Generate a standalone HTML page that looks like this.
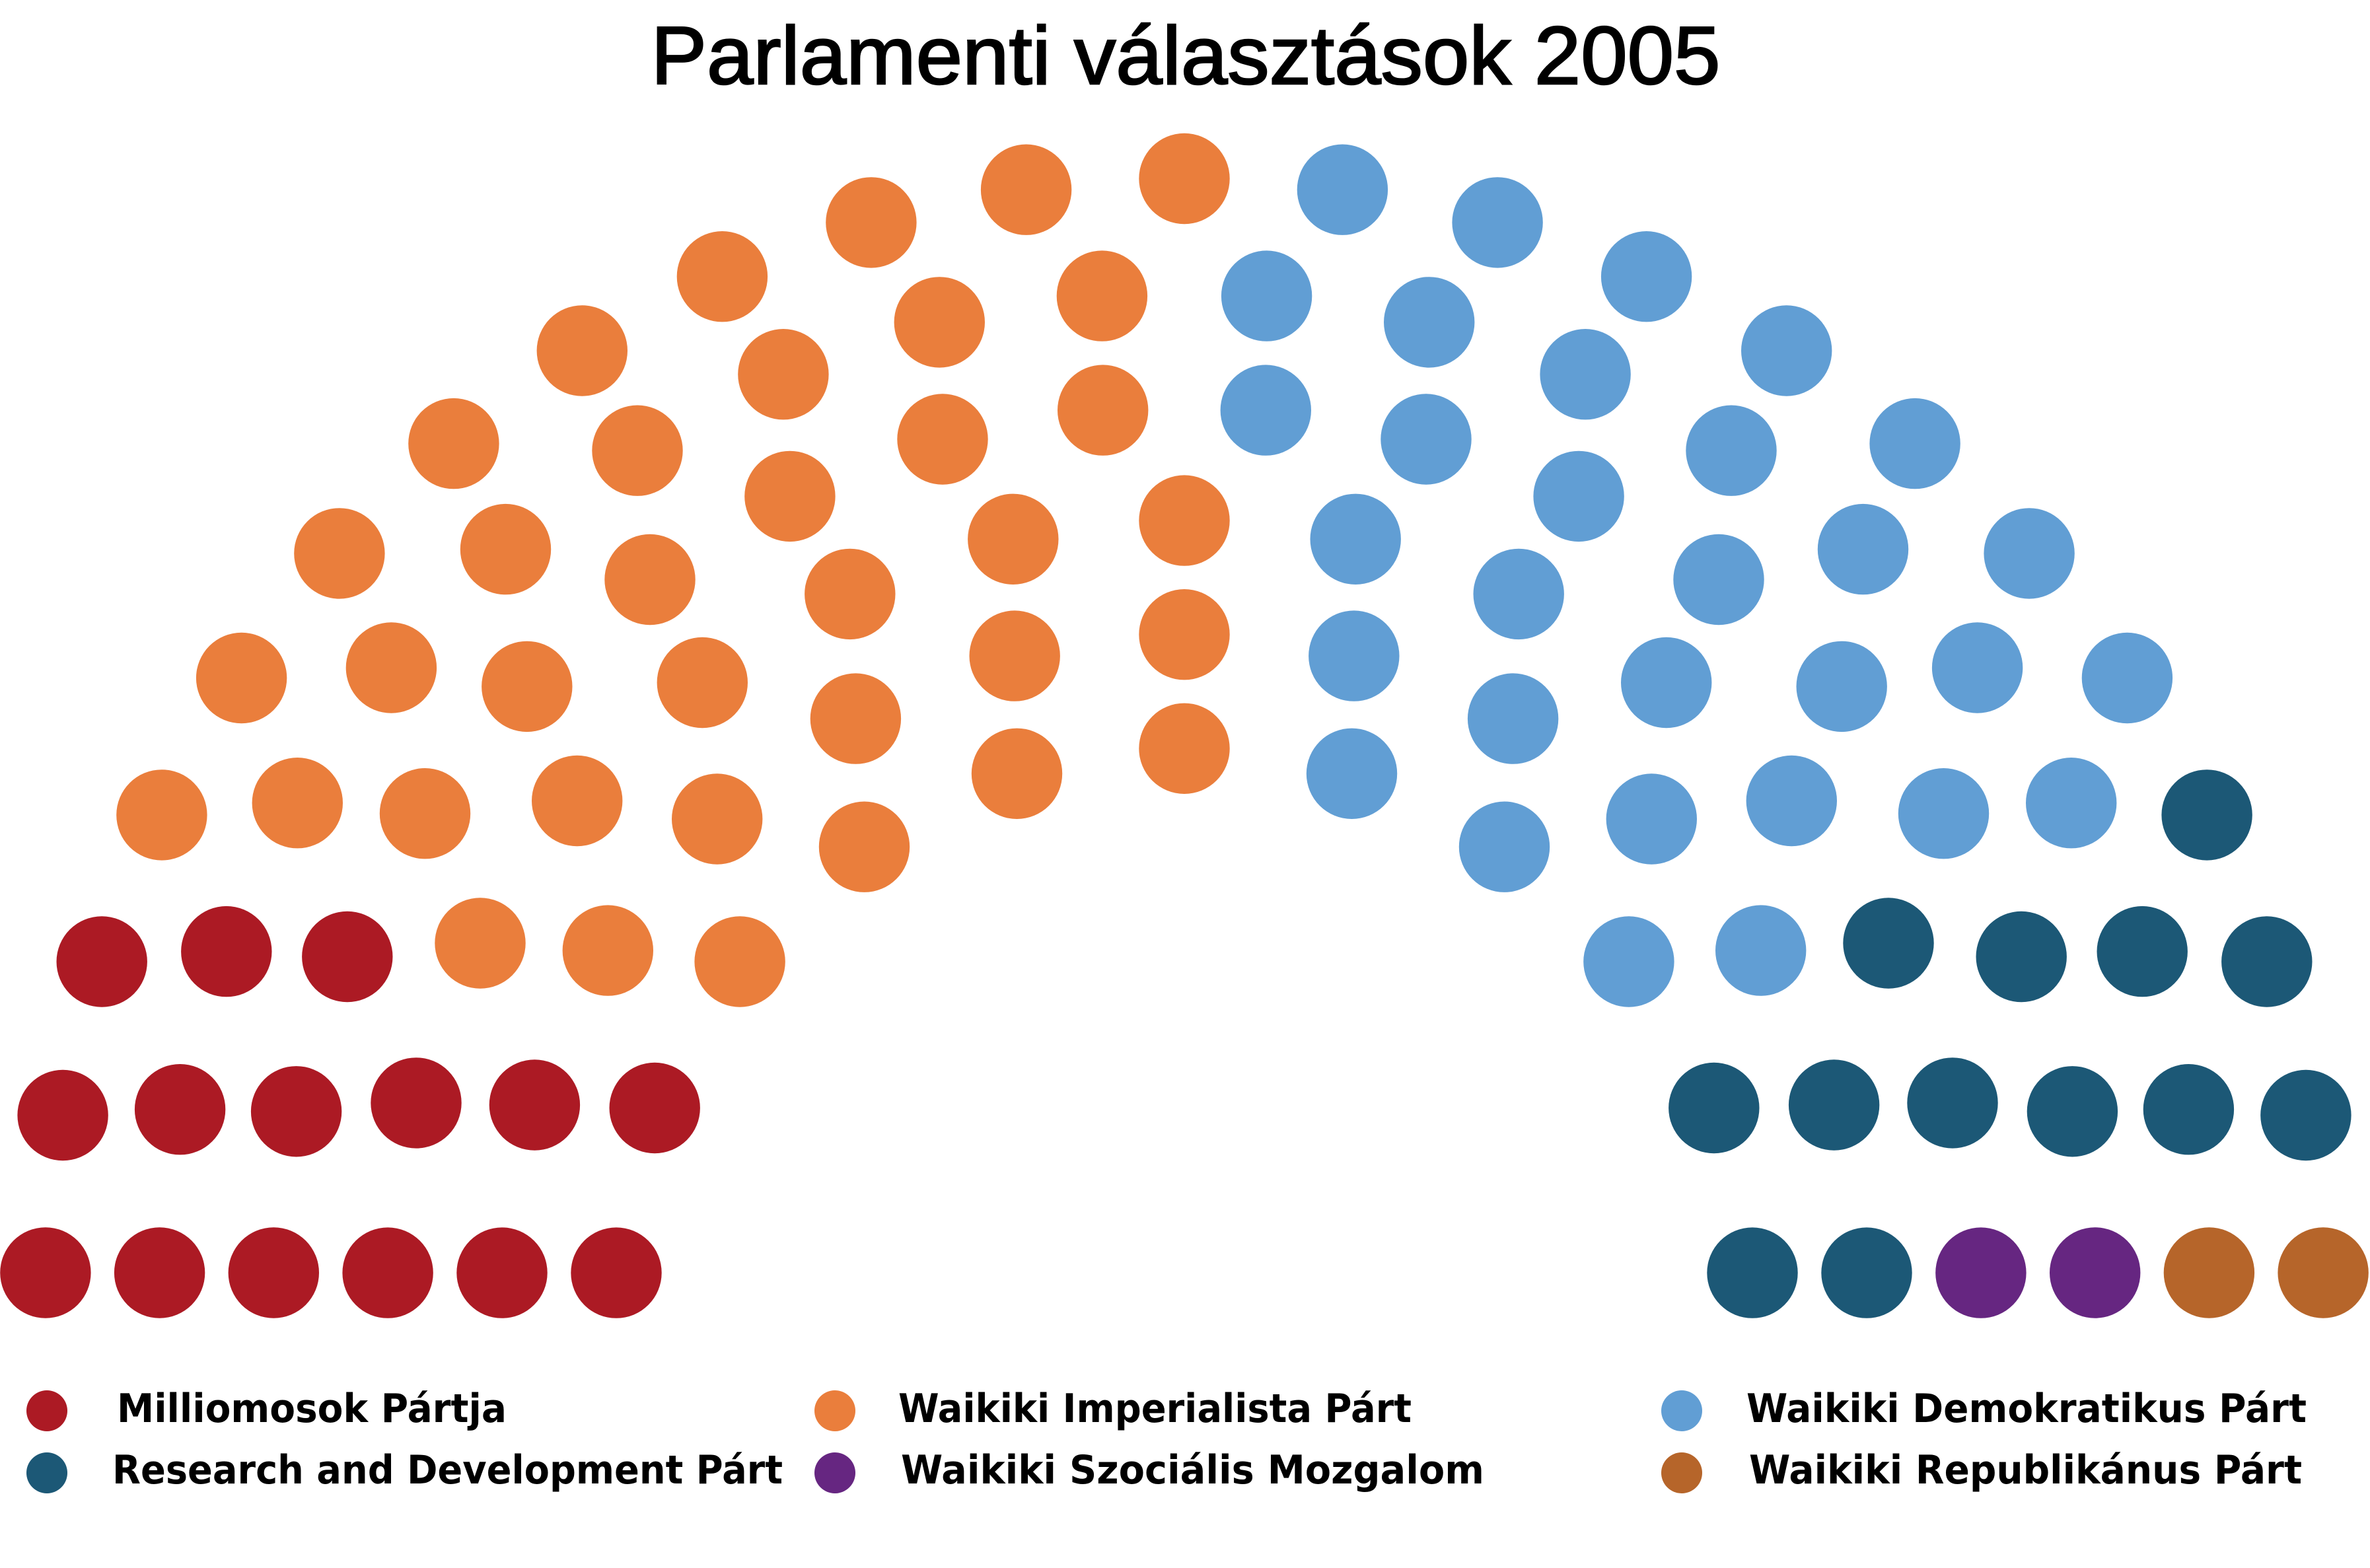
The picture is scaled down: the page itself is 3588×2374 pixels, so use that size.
<!DOCTYPE html>
<html><head><meta charset="utf-8"><style>html,body{margin:0;padding:0;background:#fff}svg{display:block}</style></head>
<body>
<svg id="chart" xmlns="http://www.w3.org/2000/svg" width="3588" height="2374" viewBox="0 0 3588 2374">
<rect x="0" y="0" width="3588" height="2374" fill="#fff"/>
<text x="1795" y="127" text-anchor="middle" font-family="Liberation Sans, sans-serif" font-size="124" stroke="#000" stroke-width="2.5" textLength="1619" lengthAdjust="spacingAndGlyphs">Parlamenti választások 2005</text>
<g id="seats"></g>
<g id="legend"></g>
</svg>
<script>
const parties = ["Milliomosok Pártja","Waikiki Imperialista Párt","Waikiki Demokratikus Párt","Research and Development Párt","Waikiki Szociális Mozgalom","Waikiki Republikánus Párt"];
const seatCounts = [15, 37, 31, 13, 2, 2];
const colors = ["#AC1A24","#EA7E3C","#619ED4","#1C5876","#662681","#B6652A"];

const svg = document.getElementById('chart');
const NS = "http://www.w3.org/2000/svg";
const cx = 1793, cy = 1996, S = 1035.3;
const Totals=[0,3,15,33,61,95,138,189,247,313,388,469,559,657,762,876,997,1126,1263,1408,1560];
const sum = seatCounts.reduce((a,b)=>a+b,0);
let rows = 1;
for (let i=1;i<Totals.length;i++){ if (Totals[i]>=sum){ rows=i; break; } }
const rad = 0.4/rows;
const pos = [];
function addRow(J, R){
  if (J===1){ pos.push([Math.PI/2, 1.75, R+0.25]); return; }
  for (let j=0;j<J;j++){
    const a = j*(Math.PI-2*Math.sin(rad/R))/(J-1)+Math.sin(rad/R);
    pos.push([a, R*Math.cos(a)+1.75, R*Math.sin(a)+0.25]);
  }
}
for (let i=1;i<rows;i++){
  const R=(3*rows+4*i-2)/(4*rows);
  const J=Math.floor(sum/Totals[rows]*Math.PI/(2*Math.asin(2/(3*rows+4*i-2))));
  addRow(J,R);
}
addRow(sum-pos.length,(7*rows-2)/(4*rows));
pos.sort((a,b)=>b[0]-a[0]);
const seatsG = document.getElementById('seats');
let k=0;
seatCounts.forEach((n,p)=>{
  for (let s=0;s<n;s++){
    const q=pos[k++];
    const c=document.createElementNS(NS,'circle');
    c.setAttribute('cx',(cx+(q[1]-1.75)*S).toFixed(1));
    c.setAttribute('cy',(cy-(q[2]-0.25)*S).toFixed(1));
    c.setAttribute('r',(rad*S*0.995).toFixed(1));
    c.setAttribute('fill',colors[p]);
    
    
    seatsG.appendChild(c);
  }
});
const legendOrder=[0,1,2,3,4,5];
const legCircleX=[71,1264,2546], legTextX=[177,1360,2644], legTextW=[[590,777,848],[1015,883,837]];
const legCy=[2136,2230], legBase=[2153,2246];
const legendG=document.getElementById('legend');
legendOrder.forEach((p,i)=>{
  const row=Math.floor(i/3), col=i%3;
  const g=document.createElementNS(NS,'g');
  
  
  const c=document.createElementNS(NS,'circle');
  c.setAttribute('cx',legCircleX[col]); c.setAttribute('cy',legCy[row]); c.setAttribute('r',31);
  c.setAttribute('fill',colors[p]);
  
  
  const t=document.createElementNS(NS,'text');
  t.setAttribute('x',legTextX[col]+(row===1&&col===0?-7:(row===1?4:0)));
  t.setAttribute('y',legBase[row]);
  t.setAttribute('font-family','DejaVu Sans, sans-serif');
  t.setAttribute('font-weight','bold');
  t.setAttribute('font-size','60');
  t.setAttribute('textLength',legTextW[row][col]);
  t.setAttribute('lengthAdjust','spacingAndGlyphs');
  
  
  t.textContent=parties[p];
  g.appendChild(c); g.appendChild(t); legendG.appendChild(g);
});
</script>
</body></html>
